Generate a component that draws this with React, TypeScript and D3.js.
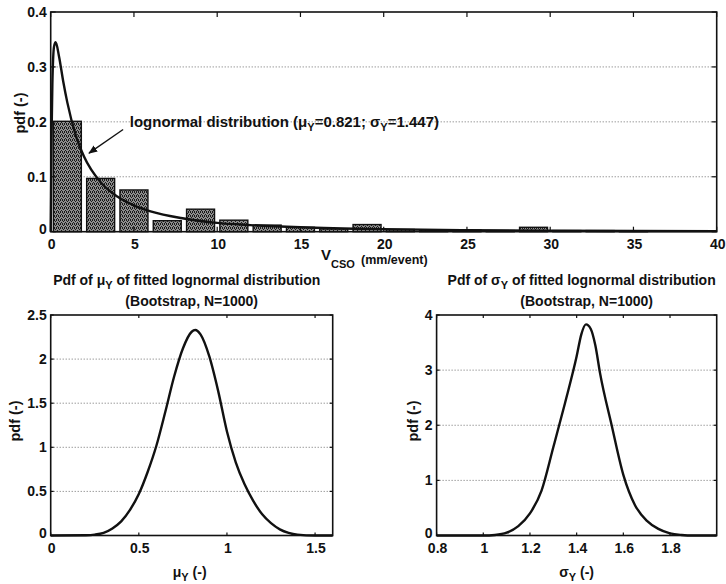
import React from 'react';
import * as d3 from 'd3';

// histogram of V_CSO (bin centres, pdf)
const histCenters = [1, 3, 5, 7, 9, 11, 13, 15, 17, 19, 21, 23, 25, 27, 29, 31, 33, 35, 37, 39];
const histPdf = [0.201, 0.097, 0.076, 0.02, 0.041, 0.021, 0.012, 0.008, 0.005, 0.013, 0.004, 0.003, 0.003, 0.002, 0.008, 0.002, 0.002, 0.001, 0, 0];

// fitted lognormal curve
const lognX = [0, 0.02, 0.05, 0.1, 0.2, 0.3, 0.5, 0.75, 1, 1.5, 2, 3, 4, 5, 6, 8, 10, 12, 15, 20, 25, 30, 35, 40];
const lognPdf = [0, 0.066, 0.17, 0.268, 0.337, 0.345, 0.319, 0.274, 0.235, 0.176, 0.137, 0.09, 0.064, 0.048, 0.037, 0.024, 0.016, 0.012, 0.008, 0.0045, 0.0028, 0.0019, 0.0013, 0.001];

// bootstrap pdf of mu_Y
const muX = [0, 0.2, 0.25, 0.3, 0.35, 0.4, 0.45, 0.5, 0.55, 0.6, 0.65, 0.7, 0.75, 0.8, 0.82, 0.85, 0.9, 0.95, 1, 1.05, 1.1, 1.15, 1.2, 1.25, 1.3, 1.35, 1.4, 1.5, 1.6];
const muPdf = [0, 0.003, 0.01, 0.03, 0.08, 0.16, 0.29, 0.47, 0.72, 1.02, 1.4, 1.8, 2.12, 2.31, 2.33, 2.28, 2.03, 1.64, 1.18, 0.83, 0.58, 0.39, 0.24, 0.14, 0.07, 0.03, 0.01, 0, 0];

// bootstrap pdf of sigma_Y
const sigmaX = [0.8, 1.0, 1.05, 1.1, 1.15, 1.2, 1.25, 1.3, 1.35, 1.4, 1.42, 1.44, 1.46, 1.48, 1.5, 1.55, 1.6, 1.65, 1.7, 1.75, 1.8, 1.85, 1.9, 2.0];
const sigmaPdf = [0, 0, 0.01, 0.05, 0.17, 0.4, 0.82, 1.6, 2.4, 3.25, 3.65, 3.83, 3.75, 3.45, 2.95, 2.0, 1.1, 0.55, 0.27, 0.12, 0.04, 0.01, 0, 0];

const topXTicks = [0, 5, 10, 15, 20, 25, 30, 35, 40];
const topYTicks = [0, 0.1, 0.2, 0.3, 0.4];
const muXTicks = [0, 0.5, 1, 1.5];
const muYTicks = [0, 0.5, 1, 1.5, 2, 2.5];
const sigmaXTicks = [0.8, 1, 1.2, 1.4, 1.6, 1.8];
const sigmaYTicks = [0, 1, 2, 3, 4];

const FONT = '"Liberation Sans", Arial, Helvetica, sans-serif';

function Grid({ x, y, yTicks }) {
  const [x0, x1] = x.range();
  const [lo, hi] = y.domain();
  return (
    <g>
      {yTicks.filter(v => v > lo && v < hi).map(v => (
        <line key={v} x1={x0} x2={x1} y1={y(v)} y2={y(v)} stroke="#6f6f6f" strokeWidth={1} strokeDasharray="1 2" />
      ))}
    </g>
  );
}

function Frame({ x, y, xTicks, yTicks, tick }) {
  const [x0, x1] = x.range();
  const [yb, yt] = y.range();
  return (
    <g fontFamily={FONT} fontWeight="bold" fontSize={14} fill="#111">
      <rect x={x0} y={yt} width={x1 - x0} height={yb - yt} fill="none" stroke="#111" strokeWidth={1.6} />
      {xTicks.map(v => (
        <g key={'x' + v}>
          <line x1={x(v)} x2={x(v)} y1={yb} y2={yb - tick} stroke="#111" strokeWidth={1.2} />
          <line x1={x(v)} x2={x(v)} y1={yt} y2={yt + tick} stroke="#111" strokeWidth={1.2} />
          <text x={x(v) + 1} y={yb + 17} textAnchor="middle">{String(v)}</text>
        </g>
      ))}
      {yTicks.map(v => (
        <g key={'y' + v}>
          <line x1={x0} x2={x0 + tick} y1={y(v)} y2={y(v)} stroke="#111" strokeWidth={1.2} />
          <line x1={x1} x2={x1 - tick} y1={y(v)} y2={y(v)} stroke="#111" strokeWidth={1.2} />
          <text x={x0 - 4} y={v === 0 ? y(v) - 3 : y(v)} dy="0.36em" textAnchor="end">{String(v)}</text>
        </g>
      ))}
    </g>
  );
}

function YLabel({ x, y }) {
  return (
    <text transform={`translate(${x},${y}) rotate(-90)`} textAnchor="middle" fontFamily={FONT} fontWeight="bold" fontSize={14.5} fill="#111">pdf (-)</text>
  );
}

export default function App() {
  // top panel: histogram + lognormal fit
  const xTop = d3.scaleLinear().domain([0, 40]).range([50.7, 716.7]);
  const yTop = d3.scaleLinear().domain([0, 0.4]).range([231.7, 12]);
  // bottom left: mu_Y
  const xMu = d3.scaleLinear().domain([0, 1.6]).range([50.7, 332.7]);
  const yMu = d3.scaleLinear().domain([0, 2.5]).range([535.5, 315]);
  // bottom right: sigma_Y
  const xSig = d3.scaleLinear().domain([0.8, 2.0]).range([436.6, 716.7]);
  const ySig = d3.scaleLinear().domain([0, 4]).range([535.5, 315]);

  const lognLine = d3.line<number>().x((d, i) => xTop(lognX[i])).y(d => yTop(d)).curve(d3.curveMonotoneX);
  const muLine = d3.line<number>().x((d, i) => xMu(muX[i])).y(d => yMu(d)).curve(d3.curveMonotoneX);
  const sigLine = d3.line<number>().x((d, i) => xSig(sigmaX[i])).y(d => ySig(d)).curve(d3.curveMonotoneX);

  const halfBar = 0.84;
  const muC = (xMu.range()[0] + xMu.range()[1]) / 2;
  const sigC = (xSig.range()[0] + xSig.range()[1]) / 2;
  const dots = [[0, 0], [2, 0], [3, 1], [1, 2], [0, 3], [2, 3]];

  return (
    <svg width={726} height={584} style={{ position: 'absolute', left: 0, top: 0, background: '#fff' }}>
      <defs>
        <pattern id="stipple" width={4} height={4} patternUnits="userSpaceOnUse">
          <rect width={4} height={4} fill="#8e8e8e" />
          {dots.map(([a, b], i) => <rect key={i} x={a} y={b} width={1} height={1} fill="#1a1a1a" />)}
        </pattern>
        <marker id="arrow" viewBox="0 0 10 10" refX={9} refY={5} markerWidth={9} markerHeight={9} orient="auto" markerUnits="userSpaceOnUse">
          <path d="M0,1 L10,5 L0,9 Z" fill="#111" />
        </marker>
      </defs>

      {/* top panel */}
      <Grid x={xTop} y={yTop} yTicks={topYTicks} />
      <g>
        {histPdf.map((v, i) => v > 0 && (
          <rect key={i}
            x={xTop(histCenters[i] - halfBar)}
            y={yTop(v)}
            width={xTop(histCenters[i] + halfBar) - xTop(histCenters[i] - halfBar)}
            height={yTop(0) - yTop(v)}
            fill="url(#stipple)" stroke="#111" strokeWidth={1.4} />
        ))}
      </g>
      <path d={lognLine(lognPdf) || ''} fill="none" stroke="#111" strokeWidth={2.4} />
      <Frame x={xTop} y={yTop} xTicks={topXTicks} yTicks={topYTicks} tick={5} />
      <line x1={xTop(4.35)} y1={yTop(0.186)} x2={xTop(2.3)} y2={yTop(0.143)} stroke="#111" strokeWidth={1.4} markerEnd="url(#arrow)" />
      <text x={xTop(4.75)} y={yTop(0.19)} fontFamily={FONT} fontWeight="bold" fontSize={15} fill="#111">
        lognormal distribution (μ<tspan fontSize={11} dy={4}>Y</tspan><tspan dy={-4}>=0.821; σ</tspan><tspan fontSize={11} dy={4}>Y</tspan><tspan dy={-4}>=1.447)</tspan>
      </text>
      <YLabel x={25} y={113} />
      <g fontFamily={FONT} fontWeight="bold" fill="#111">
        <text x={321} y={260} fontSize={15}>V</text>
        <text x={331} y={268} fontSize={11}>CSO</text>
        <text x={361} y={264} fontSize={12.5}>(mm/event)</text>
      </g>

      {/* bottom left: mu_Y */}
      <Grid x={xMu} y={yMu} yTicks={muYTicks} />
      <path d={muLine(muPdf) || ''} fill="none" stroke="#111" strokeWidth={2.4} />
      <Frame x={xMu} y={yMu} xTicks={muXTicks} yTicks={muYTicks} tick={3} />
      <g fontFamily={FONT} fontWeight="bold" fontSize={14} fill="#111" textAnchor="middle">
        <text x={muC - 5} y={285}>Pdf of μ<tspan fontSize={11} dy={4}>Y</tspan><tspan dy={-4}> of fitted lognormal distribution</tspan></text>
        <text x={muC} y={306}>(Bootstrap, N=1000)</text>
        <text x={muC - 2} y={577}>μ<tspan fontSize={11} dy={4}>Y</tspan><tspan dy={-4}> (-)</tspan></text>
      </g>
      <YLabel x={20} y={421} />

      {/* bottom right: sigma_Y */}
      <Grid x={xSig} y={ySig} yTicks={sigmaYTicks} />
      <path d={sigLine(sigmaPdf) || ''} fill="none" stroke="#111" strokeWidth={2.4} />
      <Frame x={xSig} y={ySig} xTicks={sigmaXTicks} yTicks={sigmaYTicks} tick={3} />
      <g fontFamily={FONT} fontWeight="bold" fontSize={14} fill="#111" textAnchor="middle">
        <text x={sigC + 5} y={285}>Pdf of σ<tspan fontSize={11} dy={4}>Y</tspan><tspan dy={-4}> of fitted lognormal distribution</tspan></text>
        <text x={sigC + 10} y={306}>(Bootstrap, N=1000)</text>
        <text x={sigC} y={577}>σ<tspan fontSize={11} dy={4}>Y</tspan><tspan dy={-4}> (-)</tspan></text>
      </g>
      <YLabel x={418} y={421} />
    </svg>
  );
}
